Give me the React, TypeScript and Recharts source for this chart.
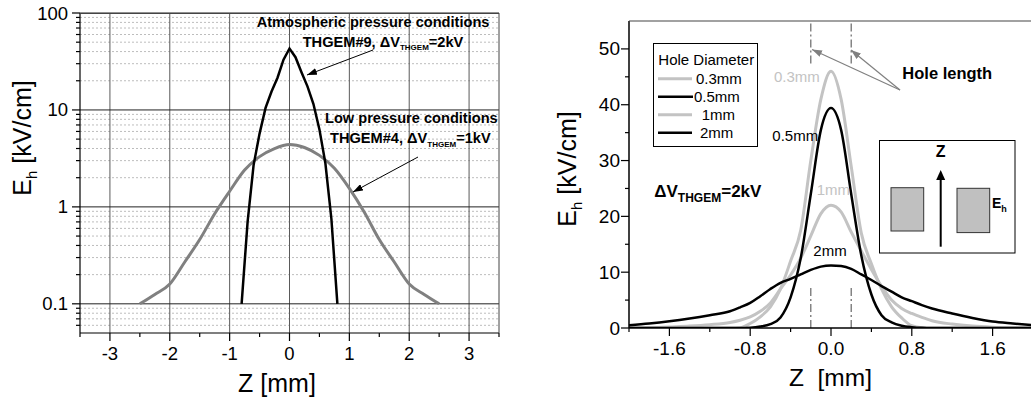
import React from "react";
import { CartesianGrid, Line, LineChart, ReferenceLine, XAxis, YAxis } from "recharts";

// left panel: field along the hole axis, log scale
const Z_ATM = [-0.8, -0.7, -0.6, -0.5, -0.4, -0.3, -0.2, -0.1, 0, 0.1, 0.2, 0.3, 0.4, 0.5, 0.6, 0.7, 0.8];
const E_ATM = [0.1, 0.7, 2.7, 5.7, 10.5, 15.5, 21.5, 33, 43, 35, 24.5, 17.5, 11.5, 6.3, 2.8, 0.75, 0.1];
const Z_LOW = [-2.5, -2.25, -2, -1.75, -1.5, -1.25, -1, -0.75, -0.5, -0.25, 0, 0.25, 0.5, 0.75, 1, 1.25, 1.5, 1.75, 2, 2.25, 2.5];
const E_LOW = [0.1, 0.125, 0.16, 0.27, 0.46, 0.85, 1.45, 2.4, 3.3, 4.0, 4.4, 4.1, 3.4, 2.5, 1.55, 0.88, 0.46, 0.27, 0.16, 0.125, 0.1];

const LEFT_X_TICKS = [-3.5, -3, -2.5, -2, -1.5, -1, -0.5, 0, 0.5, 1, 1.5, 2, 2.5, 3, 3.5];
const LEFT_X_LABELS = [-3, -2, -1, 0, 1, 2, 3];
const LEFT_Y_MAJOR = [0.1, 1, 10, 100];
const LEFT_Y_MINOR = [
  0.06, 0.07, 0.08, 0.09, 0.2, 0.3, 0.4, 0.5, 0.6, 0.7, 0.8, 0.9,
  2, 3, 4, 5, 6, 7, 8, 9, 20, 30, 40, 50, 60, 70, 80, 90,
];

// right panel: field for several hole diameters
const Z_HOLE = [
  -2, -1.8, -1.6, -1.4, -1.2, -1, -0.9, -0.8, -0.7, -0.6, -0.5, -0.4, -0.3, -0.2, -0.1, 0,
  0.1, 0.2, 0.3, 0.4, 0.5, 0.6, 0.7, 0.8, 0.9, 1, 1.2, 1.4, 1.6, 1.8, 2,
];
const E_D03 = [0, 0, 0, 0, 0, 0, 0.05, 0.8, 2.0, 3.8, 7.0, 12, 17.5, 30, 41, 46, 41, 29, 17, 11.5, 7.0, 3.8, 1.8, 0.4, 0.05, 0, 0, 0, 0, 0, 0];
const E_D05 = [0, 0, 0, 0, 0, 0, 0, 0.05, 0.25, 0.7, 1.9, 5.5, 12.5, 24, 35.5, 39.4, 35.5, 24, 13, 6.0, 2.3, 1.0, 0.4, 0.15, 0.03, 0, 0, 0, 0, 0, 0];
const E_D1 = [0, 0.05, 0.2, 0.35, 0.6, 1.0, 1.4, 2.0, 3.0, 4.5, 7.0, 9.5, 12.5, 16.5, 20.5, 22, 20.8, 17.2, 13.8, 10.5, 7.5, 5.0, 3.5, 2.6, 1.9, 1.3, 0.7, 0.35, 0.15, 0.05, 0];
const E_D2 = [0.5, 0.8, 1.2, 1.7, 2.3, 3.0, 3.7, 4.5, 5.7, 7.0, 8.1, 8.8, 9.6, 10.4, 11.0, 11.2, 11.1, 10.6, 9.6, 8.6, 7.5, 6.5, 5.5, 4.8, 4.1, 3.5, 2.6, 1.8, 1.15, 0.8, 0.5];

const RIGHT_X_TICKS = [-2, -1.6, -1.2, -0.8, -0.4, 0, 0.4, 0.8, 1.2, 1.6, 2];
const RIGHT_X_LABELS = [-1.6, -0.8, 0, 0.8, 1.6];
const RIGHT_Y_TICKS = [0, 5, 10, 15, 20, 25, 30, 35, 40, 45, 50];
const RIGHT_Y_LABELS = [0, 10, 20, 30, 40, 50];
const HOLE_EDGES = [-0.2, 0.2];

const FONT = "Arial, 'Liberation Sans', Helvetica, sans-serif";
const LIGHT = "#c3c3c3";

const atmData = Z_ATM.map((z, i) => ({ z, e: E_ATM[i] }));
const lowData = Z_LOW.map((z, i) => ({ z, e: E_LOW[i] }));
const holeData = Z_HOLE.map((z, i) => ({ z, d03: E_D03[i], d05: E_D05[i], d1: E_D1[i], d2: E_D2[i] }));

function XTick(props: any) {
  const { x, y, payload, labels, fmt, fontSize } = props;
  const major = labels.includes(payload.value);
  return (
    <g>
      <line x1={x} x2={x} y1={y} y2={y + (major ? 8 : 4)} stroke="#000" strokeWidth={1.2} />
      {major && (
        <text x={x} y={y + 27} textAnchor="middle" fontSize={fontSize} fontFamily={FONT} fill="#000">
          {fmt(payload.value)}
        </text>
      )}
    </g>
  );
}

function YTick(props: any) {
  const { x, y, payload, labels, gap, fontSize } = props;
  const major = labels.includes(payload.value);
  return (
    <g>
      <line x1={x} x2={x - (major ? 8 : 4)} y1={y} y2={y} stroke="#000" strokeWidth={1.2} />
      {major && (
        <text x={x - gap} y={y + 6.5} textAnchor="end" fontSize={fontSize} fontFamily={FONT} fill="#000">
          {String(payload.value)}
        </text>
      )}
    </g>
  );
}

function LeftPanel() {
  return (
    <LineChart width={520} height={403} margin={{ top: 13, right: 21, bottom: 30, left: 20 }}>
      <CartesianGrid horizontalValues={LEFT_Y_MINOR} vertical={false} stroke="#bdbdbd" strokeDasharray="2 2" />
      <CartesianGrid verticalValues={LEFT_X_LABELS} horizontal={false} stroke="#5a5a5a" />
      <CartesianGrid horizontalValues={LEFT_Y_MAJOR} vertical={false} stroke="#222" />
      <XAxis
        dataKey="z"
        type="number"
        domain={[-3.5, 3.5]}
        ticks={LEFT_X_TICKS}
        interval={0}
        height={40}
        tickSize={0}
        tickMargin={0}
        tickLine={false}
        axisLine={{ stroke: "#000", strokeWidth: 1.2 }}
        tick={<XTick labels={LEFT_X_LABELS} fmt={(v: number) => String(v)} fontSize={18.5} />}
        allowDuplicatedCategory={false}
      />
      <YAxis
        dataKey="e"
        type="number"
        scale="log"
        domain={[0.05, 100]}
        allowDataOverflow
        ticks={[...LEFT_Y_MAJOR, ...LEFT_Y_MINOR]}
        interval={0}
        width={60}
        tickSize={0}
        tickMargin={0}
        tickLine={false}
        axisLine={{ stroke: "#000", strokeWidth: 1.2 }}
        tick={<YTick labels={LEFT_Y_MAJOR} gap={12} fontSize={18.5} />}
      />
      <Line data={lowData} dataKey="e" type="monotone" stroke="#808080" strokeWidth={3} dot={false} isAnimationActive={false} />
      <Line data={atmData} dataKey="e" type="linear" stroke="#000" strokeWidth={2.5} dot={false} isAnimationActive={false} />
    </LineChart>
  );
}

function RightPanel() {
  return (
    <LineChart width={515} height={403} data={holeData} margin={{ top: 21, right: 2, bottom: 35, left: 49 }}>
      <XAxis
        dataKey="z"
        type="number"
        domain={[-2, 2]}
        ticks={RIGHT_X_TICKS}
        interval={0}
        height={40}
        tickSize={0}
        tickMargin={0}
        tickLine={false}
        axisLine={{ stroke: "#000", strokeWidth: 1.5 }}
        tick={<XTick labels={RIGHT_X_LABELS} fmt={(v: number) => v.toFixed(1)} fontSize={19} />}
      />
      <YAxis
        type="number"
        domain={[0, 55]}
        allowDataOverflow
        ticks={RIGHT_Y_TICKS}
        interval={0}
        width={60}
        tickSize={0}
        tickMargin={0}
        tickLine={false}
        axisLine={{ stroke: "#000", strokeWidth: 1.5 }}
        tick={<YTick labels={RIGHT_Y_LABELS} gap={9} fontSize={19} />}
      />
      {HOLE_EDGES.map((h) => (
        <ReferenceLine
          key={"t" + h}
          segment={[{ x: h, y: 47.4 }, { x: h, y: 55 }]}
          stroke="#666"
          strokeWidth={1.2}
          strokeDasharray="8 3 2 3"
        />
      ))}
      {HOLE_EDGES.map((h) => (
        <ReferenceLine
          key={"b" + h}
          segment={[{ x: h, y: 0 }, { x: h, y: 7.7 }]}
          stroke="#666"
          strokeWidth={1.2}
          strokeDasharray="8 3 2 3"
        />
      ))}
      <Line dataKey="d03" type="monotone" stroke={LIGHT} strokeWidth={3} dot={false} isAnimationActive={false} />
      <Line dataKey="d1" type="monotone" stroke={LIGHT} strokeWidth={3} dot={false} isAnimationActive={false} />
      <Line dataKey="d05" type="monotone" stroke="#000" strokeWidth={2.5} dot={false} isAnimationActive={false} />
      <Line dataKey="d2" type="monotone" stroke="#000" strokeWidth={2.5} dot={false} isAnimationActive={false} />
    </LineChart>
  );
}

function Overlay() {
  const b = { fontFamily: FONT, fontWeight: 700 as const, fill: "#000" };
  return (
    <svg width={1031} height={403} style={{ position: "absolute", left: 0, top: 0, pointerEvents: "none" }}>
      <defs>
        <marker id="ahBlack" markerWidth={10} markerHeight={7} refX={10} refY={3.5} orient="auto" markerUnits="userSpaceOnUse">
          <path d="M0,0 L10,3.5 L0,7 z" fill="#000" />
        </marker>
        <marker id="ahGray" markerWidth={10} markerHeight={7} refX={10} refY={3.5} orient="auto" markerUnits="userSpaceOnUse">
          <path d="M0,0 L10,3.5 L0,7 z" fill="#808080" />
        </marker>
      </defs>

      {/* left panel frame + titles */}
      <line x1={80} y1={13.5} x2={499} y2={13.5} stroke="#444" strokeWidth={1} />
      <line x1={499} y1={13} x2={499} y2={333} stroke="#444" strokeWidth={1} />
      <text x={277} y={392} textAnchor="middle" fontSize={25} fontFamily={FONT}>Z [mm]</text>
      <text transform="translate(31,138) rotate(-90)" textAnchor="middle" fontSize={25} fontFamily={FONT}>
        E<tspan fontSize={15} dy={6}>h</tspan>
        <tspan dy={-6}> [kV/cm]</tspan>
      </text>

      <text x={256.7} y={27.3} fontSize={14.6} {...b}>Atmospheric pressure conditions</text>
      <text x={302.7} y={46.7} fontSize={14.6} {...b}>
        THGEM#9, ΔV<tspan fontSize={8} dy={3.5}>THGEM</tspan>
        <tspan dy={-3.5}>=2kV</tspan>
      </text>
      <text x={325} y={123.3} fontSize={14.6} {...b}>Low pressure conditions</text>
      <text x={330} y={143.3} fontSize={14.6} {...b}>
        THGEM#4, ΔV<tspan fontSize={8} dy={3.5}>THGEM</tspan>
        <tspan dy={-3.5}>=1kV</tspan>
      </text>
      <line x1={373} y1={50} x2={307} y2={75} stroke="#000" strokeWidth={1} markerEnd="url(#ahBlack)" />
      <line x1={418} y1={157} x2={353} y2={192} stroke="#000" strokeWidth={1} markerEnd="url(#ahBlack)" />

      {/* right panel frame + titles */}
      <line x1={629} y1={21} x2={1031} y2={21} stroke="#444" strokeWidth={1.2} />
      <text x={830.5} y={386} textAnchor="middle" fontSize={24.5} fontFamily={FONT} xmlSpace="preserve">Z  [mm]</text>
      <text transform="translate(576,169) rotate(-90)" textAnchor="middle" fontSize={25} fontFamily={FONT}>
        E<tspan fontSize={15} dy={6}>h</tspan>
        <tspan dy={-6}> [kV/cm]</tspan>
      </text>

      {/* legend */}
      <rect x={653.5} y={43.5} width={104} height={103} fill="#fff" stroke="#000" strokeWidth={1} />
      <text x={658.3} y={65} fontSize={15} fontFamily={FONT}>Hole Diameter</text>
      <line x1={658} x2={692} y1={78.7} y2={78.7} stroke={LIGHT} strokeWidth={3} />
      <text x={696} y={84.2} fontSize={15} fontFamily={FONT}>0.3mm</text>
      <line x1={658} x2={693} y1={96.7} y2={96.7} stroke="#000" strokeWidth={2.5} />
      <text x={694} y={102.2} fontSize={15} fontFamily={FONT}>0.5mm</text>
      <line x1={658} x2={692} y1={114.7} y2={114.7} stroke={LIGHT} strokeWidth={3} />
      <text x={701.7} y={120.2} fontSize={15} fontFamily={FONT}>1mm</text>
      <line x1={658} x2={692} y1={132.7} y2={132.7} stroke="#000" strokeWidth={2.5} />
      <text x={700} y={138.2} fontSize={15} fontFamily={FONT}>2mm</text>

      {/* curve labels */}
      <text x={774} y={81.7} fontSize={15} fontFamily={FONT} fill={LIGHT}>0.3mm</text>
      <text x={772.3} y={141} fontSize={15} fontFamily={FONT} fill="#000">0.5mm</text>
      <text x={816.7} y={195} fontSize={15} fontFamily={FONT} fill={LIGHT}>1mm</text>
      <text x={813.3} y={256} fontSize={15} fontFamily={FONT} fill="#000">2mm</text>

      <text x={654.3} y={197.3} fontSize={17} {...b}>
        ΔV<tspan fontSize={12} dy={4.5}>THGEM</tspan>
        <tspan dy={-4.5}>=2kV</tspan>
      </text>

      {/* hole length note */}
      <text x={902.3} y={79} fontSize={16.5} {...b}>Hole length</text>
      <line x1={900} y1={90} x2={812} y2={49.5} stroke="#808080" strokeWidth={1.2} markerEnd="url(#ahGray)" />
      <line x1={900} y1={90} x2={851} y2={50} stroke="#808080" strokeWidth={1.2} markerEnd="url(#ahGray)" />

      {/* inset sketch */}
      <rect x={879.5} y={140.5} width={135.5} height={112.5} fill="#fff" stroke="#000" strokeWidth={1} />
      <rect x={891} y={187.7} width={32.7} height={43.3} fill="#c0c0c0" stroke="#333" strokeWidth={1} />
      <rect x={957} y={188.3} width={32.7} height={44.3} fill="#c0c0c0" stroke="#333" strokeWidth={1} />
      <line x1={940.7} y1={246.7} x2={940.7} y2={178} stroke="#000" strokeWidth={2} />
      <path d="M936.2,180 L940.7,170 L945.2,180 z" fill="#000" />
      <text x={940.7} y={157} textAnchor="middle" fontSize={16} {...b}>Z</text>
      <text x={992} y={208.3} fontSize={14} {...b}>
        E<tspan fontSize={9} dy={4}>h</tspan>
      </text>
    </svg>
  );
}

export default function App() {
  return (
    <div style={{ position: "absolute", left: 0, top: 0, width: 1031, height: 403, overflow: "hidden", background: "#fff" }}>
      <div style={{ position: "absolute", left: 0, top: 0 }}>
        <LeftPanel />
      </div>
      <div style={{ position: "absolute", left: 520, top: 0 }}>
        <RightPanel />
      </div>
      <Overlay />
    </div>
  );
}
